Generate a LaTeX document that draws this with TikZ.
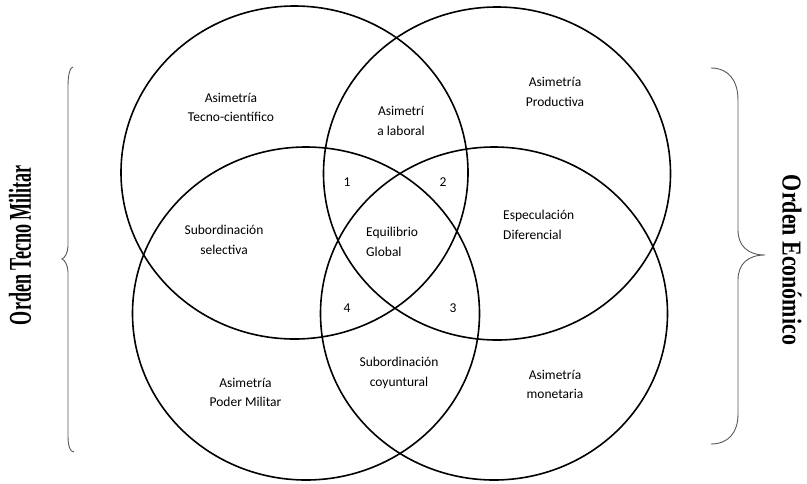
\documentclass[tikz,border=0pt]{standalone}
\usepackage{fontspec}
\setmainfont{Carlito}
\newfontfamily\ordenfont{Liberation Serif}
\usepackage{graphicx}
\usepackage{tikz}
\usetikzlibrary{shapes.geometric}
\usetikzlibrary{positioning}
\tikzstyle{circulo} = [draw, ellipse, line width = 1.6pt, minimum width = 347pt, minimum height = 333pt]
\tikzstyle{texto} = [inner sep = 0pt, align = center, font = \fontsize{13.5}{19.5}\selectfont]
\tikzstyle{numero} = [inner sep = 0pt, font = \fontsize{13.5}{19.5}\selectfont]
\tikzstyle{llave} = [line width = 0.9pt, draw = black!65]

\begin{document}
\begin{tikzpicture}[x = 1pt, y = -1pt]

			\useasboundingbox (0,0) rectangle (807,483);

			% Four circles of the diagram
			\node[circulo] (tecnologia) at (294.5,172.5) {};
			\node[circulo] (produccion) at (497,173.5) {};
			\node[circulo] (militar) at (306,313.5) {};
			\node[circulo] (finanzas) at (494,313.5) {};

			% Texts inside the circles
			\node[texto] (tecnocientifico) at (231,107.5) {Asimetría\\Tecno-científico};
			\node[texto] (laboral) at (401,121) {Asimetrí\\a laboral};
			\node[texto] (productiva) at (555,92) {Asimetría\\Productiva};
			\node[texto] (selectiva) at (224,240) {Subordinación\\selectiva};
			\node[texto, align = left, anchor = west] (equilibrio) at (366,242) {Equilibrio\\Global};
			\node[texto, align = left, anchor = west] (especulacion) at (503,225) {Especulación\\Diferencial};
			\node[texto] (coyuntural) at (399,373) {Subordinación\\coyuntural};
			\node[texto] (podermilitar) at (245.5,392.5) {Asimetría\\Poder Militar};
			\node[texto] (monetaria) at (555,384.5) {Asimetría\\monetaria};

			% Numbers
			\node[numero] (uno) at (347,182) {1};
			\node[numero] (dos) at (443,182) {2};
			\node[numero] (tres) at (453,308) {3};
			\node[numero] (cuatro) at (347,308) {4};

			% Braces
			\draw[llave] (73,67) .. controls (70,67) and (68,75) .. (68,86) -- (68,246)
			.. controls (68,252) and (65,258) .. (62,259) .. controls (65,260) and (68,266) .. (68,272)
			-- (68,436) .. controls (68,446) and (70,452) .. (74,452);
			\draw[llave] (711,68) .. controls (728,68) and (738,80) .. (738,100) -- (738,230)
			.. controls (738,246) and (748,255) .. (765,255) .. controls (748,255) and (738,264) .. (738,280)
			-- (738,414) .. controls (738,433) and (728,444) .. (711,444);

			% Labels of the braces
			\node[inner sep = 0pt, rotate = 90] (ordentecno) at (20,245) {\resizebox{160pt}{22pt}{\ordenfont\bfseries Orden Tecno Militar}};
			\node[inner sep = 0pt, rotate = -90] (ordeneco) at (792,260) {\resizebox{170pt}{19pt}{\ordenfont\bfseries Orden Económico}};

\end{tikzpicture}
\end{document}
